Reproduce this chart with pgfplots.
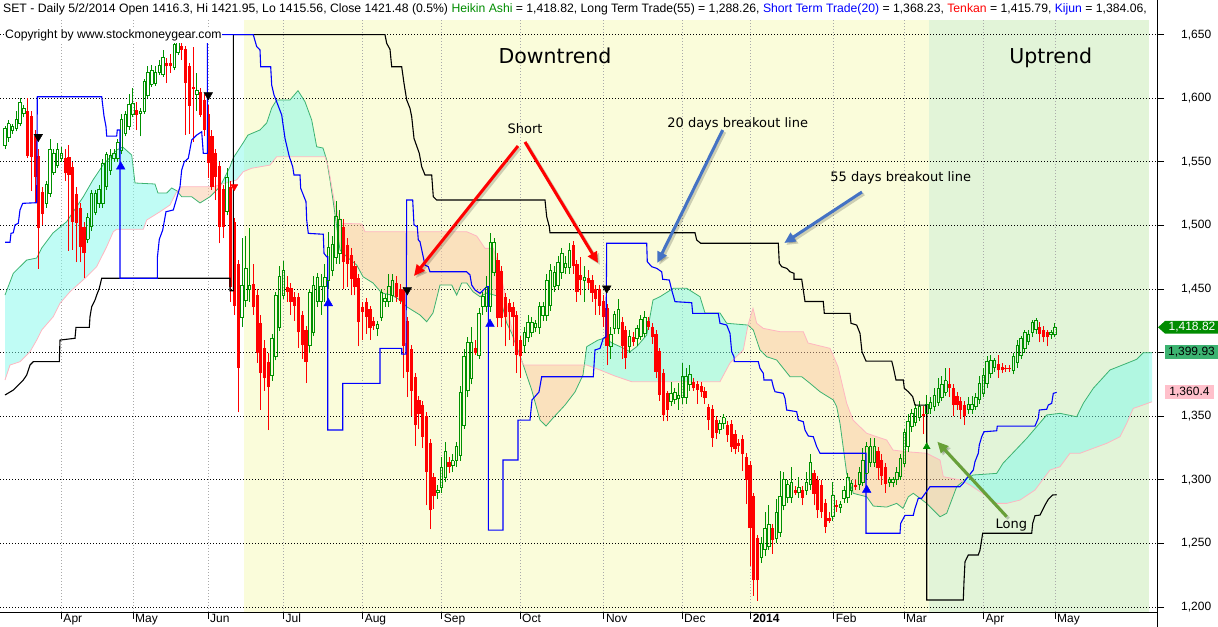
\documentclass[border=0pt]{standalone}
\usepackage{fontspec}
\setmainfont{Liberation Sans}
\newfontfamily\dejavu{DejaVu Sans}
\usepackage{pgfplots}
\pgfplotsset{compat=1.18}
\usepackage{pgfplotstable}
\usetikzlibrary{arrows.meta}

\definecolor{bgyellow}{RGB}{250,252,218}
\definecolor{bggreen}{RGB}{226,244,216}
\definecolor{candlered}{RGB}{255,0,0}
\definecolor{candlegreen}{RGB}{0,145,0}
\definecolor{spanA}{RGB}{60,179,113}
\definecolor{spanB}{RGB}{255,182,193}
\definecolor{cloudup}{RGB}{130,250,235}
\definecolor{clouddown}{RGB}{250,200,162}
\definecolor{arrowblue}{RGB}{68,114,196}
\definecolor{arrowgreen}{RGB}{104,160,56}
\definecolor{gridgray}{RGB}{170,170,170}
\definecolor{titlegreen}{RGB}{0,140,0}
\definecolor{lastgreen}{RGB}{0,140,0}
\definecolor{lastpink}{RGB}{255,192,203}

% d = trading day index (0 = first visible day); o h l c = candle values
% falling candles (open above close)
\pgfplotstableread{
d o h l c
6 1590 1600 1553 1555
7 1586 1590 1527 1554
8 1570 1575 1518 1538
9 1555 1560 1466 1498
10 1526 1530 1500 1509
16 1553 1560 1535 1541
17 1554 1563 1480 1540
18 1546 1550 1481 1503
19 1525 1530 1471 1502
20 1514 1518 1471 1483
21 1499 1503 1459 1478
35 1591 1597 1575 1587
43 1628 1632 1612 1625
44 1628 1635 1620 1625
47 1641 1646 1630 1638
48 1639 1641 1571 1612
49 1625 1628 1572 1594
50 1609 1640 1566 1607
52 1605 1608 1585 1587
53 1599 1603 1570 1575
54 1588 1595 1537 1549
55 1570 1575 1528 1530
56 1557 1560 1520 1538
57 1547 1550 1486 1499
58 1529 1532 1490 1499
60 1530 1535 1440 1452
61 1503 1506 1430 1437
62 1470 1473 1353 1388
66 1454 1470 1430 1436
67 1445 1450 1392 1400
68 1423 1430 1355 1384
69 1404 1410 1370 1380
70 1393 1400 1339 1373
75 1452 1460 1440 1448
76 1451 1455 1430 1440
77 1444 1448 1425 1437
78 1444 1447 1404 1416
79 1430 1433 1395 1406
80 1418 1421 1376 1393
90 1499 1505 1450 1471
91 1485 1490 1452 1470
92 1477 1482 1445 1458
93 1468 1472 1445 1452
94 1459 1462 1405 1424
95 1436 1440 1410 1432
96 1440 1443 1415 1428
97 1434 1437 1410 1419
98 1425 1428 1418 1421
104 1455 1460 1440 1444
105 1450 1454 1438 1441
106 1449 1452 1380 1405
107 1425 1428 1365 1385
108 1403 1406 1350 1370
109 1381 1384 1327 1343
110 1363 1366 1340 1352
111 1359 1362 1325 1334
112 1350 1353 1280 1306
113 1329 1332 1261 1276
114 1302 1305 1277 1287
118 1314 1318 1305 1310
125 1404 1410 1398 1400
131 1473 1478 1420 1427
132 1464 1468 1420 1427
133 1444 1447 1405 1428
134 1439 1442 1410 1432
135 1436 1440 1405 1428
136 1430 1433 1384 1398
137 1410 1413 1380 1397
151 1485 1488 1462 1468
152 1470 1473 1440 1448
153 1461 1475 1445 1457
155 1459 1465 1450 1455
156 1457 1461 1440 1447
157 1450 1453 1430 1442
158 1450 1453 1430 1437
159 1441 1445 1420 1428
160 1435 1438 1390 1405
164 1424 1428 1395 1405
165 1418 1421 1387 1396
167 1412 1416 1405 1408
171 1425 1428 1418 1420
172 1420 1423 1407 1412
173 1415 1418 1380 1385
174 1401 1404 1362 1367
175 1384 1387 1346 1351
176 1368 1370 1346 1355
183 1377 1380 1370 1372
184 1375 1378 1360 1371
185 1374 1377 1365 1369
186 1370 1373 1360 1364
187 1357 1360 1339 1347
188 1356 1359 1326 1333
189 1347 1350 1332 1337
192 1343 1346 1330 1335
193 1344 1347 1322 1326
194 1336 1339 1320 1324
195 1329 1332 1322 1327
196 1332 1335 1307 1320
197 1318 1321 1281 1300
198 1312 1315 1232 1262
199 1287 1290 1209 1221
200 1254 1257 1205 1221
204 1262 1265 1242 1253
210 1292 1295 1288 1290
212 1292 1295 1280 1286
215 1305 1308 1280 1289
216 1300 1303 1270 1276
217 1296 1300 1270 1275
218 1282 1285 1258 1263
219 1270 1275 1266 1268
221 1280 1284 1275 1279
226 1296 1300 1292 1294
232 1323 1326 1300 1309
233 1316 1320 1296 1303
234 1310 1313 1290 1297
244 1352 1358 1336 1350
251 1375 1388 1365 1372
252 1372 1375 1350 1359
253 1366 1369 1355 1359
254 1362 1365 1348 1355
255 1359 1362 1343 1350
264 1391 1398 1380 1386
265 1389 1392 1384 1386
266 1388 1390 1385 1387
267 1388 1390 1385 1387
275 1420 1424 1408 1415
276 1418 1421 1408 1412
277 1416 1418 1405 1412
}\redcandles
% rising candles (close at or above open)
\pgfplotstableread{
d o h l c
0 1563 1578 1560 1576
1 1569 1583 1566 1580
2 1575 1580 1572 1578
3 1576 1590 1574 1583
4 1580 1600 1578 1597
5 1588 1595 1585 1592
11 1517 1535 1514 1532
12 1525 1568 1522 1560
13 1542 1560 1540 1557
14 1547 1565 1545 1560
15 1553 1562 1550 1557
22 1489 1510 1486 1506
23 1499 1528 1496 1525
24 1510 1528 1508 1525
25 1517 1532 1514 1528
26 1517 1552 1514 1549
27 1531 1558 1528 1556
28 1543 1560 1540 1555
29 1553 1560 1550 1557
30 1553 1568 1550 1565
31 1559 1588 1556 1583
32 1572 1590 1570 1587
33 1578 1603 1575 1595
34 1587 1608 1585 1596
36 1588 1592 1570 1590
37 1590 1615 1588 1613
38 1602 1625 1600 1620
39 1611 1626 1609 1622
40 1612 1625 1610 1620
41 1620 1630 1618 1626
42 1619 1638 1617 1632
45 1624 1648 1622 1642
46 1636 1650 1634 1644
51 1603 1620 1590 1606
59 1511 1545 1508 1538
63 1428 1490 1420 1453
64 1441 1492 1436 1466
65 1450 1498 1440 1453
71 1382 1415 1378 1411
72 1397 1448 1394 1445
73 1420 1468 1417 1460
74 1445 1472 1442 1465
81 1406 1450 1400 1447
82 1416 1460 1413 1453
83 1440 1463 1436 1459
84 1440 1462 1430 1452
85 1452 1470 1440 1459
86 1457 1495 1450 1483
87 1465 1492 1460 1485
88 1475 1519 1470 1507
89 1478 1512 1470 1505
99 1419 1425 1413 1422
100 1428 1450 1425 1447
101 1440 1446 1436 1443
102 1440 1462 1436 1452
103 1445 1462 1440 1457
115 1290 1296 1285 1292
116 1294 1318 1290 1310
117 1302 1330 1298 1322
119 1311 1320 1306 1315
120 1315 1330 1310 1326
121 1319 1374 1315 1369
122 1343 1403 1340 1397
123 1370 1412 1365 1408
124 1380 1420 1375 1408
126 1398 1435 1395 1431
127 1436 1448 1430 1444
128 1436 1460 1432 1451
129 1436 1494 1432 1487
130 1463 1490 1460 1487
138 1406 1420 1400 1416
139 1412 1430 1408 1424
140 1416 1428 1412 1424
141 1420 1426 1416 1423
142 1420 1440 1415 1436
143 1429 1440 1425 1436
144 1429 1462 1425 1457
145 1437 1470 1433 1465
146 1452 1468 1448 1463
147 1453 1476 1450 1471
148 1463 1482 1458 1478
149 1467 1476 1462 1470
150 1467 1486 1462 1480
154 1457 1468 1440 1459
161 1405 1420 1395 1414
162 1419 1433 1415 1430
163 1419 1442 1415 1434
166 1405 1418 1400 1413
168 1411 1422 1405 1419
169 1413 1430 1410 1426
170 1415 1433 1412 1428
177 1362 1377 1358 1368
178 1363 1372 1360 1369
179 1364 1376 1355 1366
180 1365 1392 1360 1381
181 1365 1388 1360 1381
182 1375 1390 1370 1383
190 1340 1347 1336 1344
191 1344 1352 1340 1349
201 1239 1255 1235 1250
202 1245 1275 1240 1262
203 1248 1280 1245 1265
205 1254 1285 1250 1274
206 1259 1307 1255 1287
207 1280 1306 1276 1300
208 1286 1300 1282 1296
209 1286 1310 1282 1298
211 1290 1302 1286 1294
213 1292 1306 1288 1298
214 1296 1320 1292 1314
220 1271 1298 1268 1288
222 1278 1283 1274 1281
223 1285 1295 1282 1292
224 1286 1305 1282 1302
225 1292 1300 1288 1297
227 1296 1310 1292 1306
228 1298 1325 1295 1315
229 1305 1330 1300 1326
230 1314 1333 1310 1326
231 1314 1333 1310 1326
235 1298 1302 1294 1300
236 1298 1302 1294 1300
237 1300 1310 1296 1306
238 1303 1320 1300 1317
239 1313 1340 1310 1337
240 1326 1352 1322 1346
241 1342 1356 1338 1352
242 1345 1360 1342 1356
243 1349 1362 1346 1358
245 1352 1367 1348 1359
246 1356 1365 1352 1361
247 1358 1372 1354 1366
248 1361 1380 1358 1372
249 1365 1382 1362 1375
250 1369 1388 1366 1378
256 1355 1365 1352 1359
257 1355 1366 1352 1359
258 1358 1368 1355 1365
259 1363 1382 1360 1376
260 1368 1388 1365 1382
261 1376 1397 1372 1393
262 1384 1398 1380 1394
263 1388 1396 1385 1394
268 1386 1400 1383 1397
269 1392 1410 1388 1406
270 1398 1413 1395 1411
271 1403 1418 1400 1416
272 1409 1418 1406 1414
273 1416 1426 1412 1424
274 1418 1427 1415 1425
278 1414 1418 1411 1416
279 1414 1423 1412 1420
}\greencandles

\begin{document}
\begin{tikzpicture}
\useasboundingbox (0,0) rectangle (1218bp,627bp);
% background zones (behind the axis)
\fill[bgyellow] (244bp,15bp) rectangle (929bp,607bp);
\fill[bggreen] (929bp,15bp) rectangle (1149bp,607bp);
\begin{axis}[
  at={(0bp,15bp)}, anchor=south west,
  scale only axis, width=1157bp, height=592bp,
  xmin=0, xmax=1157, ymin=1196.1, ymax=1661.56,
  axis x line*=bottom, axis y line*=right,
  axis line style={black, line width=1bp},
  xtick align=outside, ytick align=outside,
  major tick length=7bp,
  tick style={black, line width=0.8bp},
  xtick={61.3,133,208,283.5,362.6,441.7,520,603.8,682,833.7,904,983.5,1055},
  xticklabels={Apr,May,Jun,Jul,Aug,Sep,Oct,Nov,Dec,Feb,Mar,Apr,May},
  extra x ticks={750.6},
  extra x tick labels={\textbf{2014}},
  extra x tick style={major grid style={solid, gray!45, line width=0.8bp}},
  xmajorgrids,
  x grid style={gridgray, dash pattern=on 1bp off 2bp, line width=0.8bp},
  ytick={1200,1250,1300,1350,1400,1450,1500,1550,1600,1650},
  yticklabels={{1,200},{1,250},{1,300},{1,350},{},{1,450},{1,500},{1,550},{1,600},{1,650}},
  ymajorgrids,
  y grid style={black, dash pattern=on 1bp off 2bp, line width=0.8bp},
  yticklabel pos=right,
  tick label style={font=\fontsize{12bp}{14bp}\selectfont},
  xticklabel style={anchor=north west, inner sep=0pt, xshift=2bp, yshift=5bp},
  yticklabel style={anchor=west, inner sep=0pt, xshift=17bp},
]
% cloud areas (span A above span B: cyan, span B above span A: peach)
\addplot[draw=none, fill=cloudup, fill opacity=0.5] coordinates {
(5,1445.3) (13.3,1462.4) (26.7,1472.8) (36.7,1474.4) (41.7,1482.3) (53,1494.1) (66.7,1503) (83.3,1522.6)
(93,1535.8) (103,1547.5) (116.7,1559.3) (122.7,1561.7) (131.7,1555.4) (135,1533.4) (155,1532.6) (158,1525.5)
(166.7,1525.5) (171.7,1529.5) (176.5,1527.3)
(176.5,1526.3) (170,1516.1) (160,1510.8) (146.7,1504.3) (143.3,1497) (116.7,1497) (113.3,1495.1) (106.7,1483.3)
(96.7,1467.6) (85,1458.5) (70,1447.9) (60,1438.8) (53.3,1428.3) (41.7,1417.8) (36.7,1409.9) (30,1400.7)
(20,1392.9) (10,1390.3) (5,1378.5)};
\addplot[draw=none, fill=clouddown, fill opacity=0.5] coordinates {
(176.5,1526.5) (181.7,1530.5) (213.3,1530.5) (221,1532.2)
(221,1532.1) (220,1530.5) (210,1522.6) (200,1517.7) (191.7,1522.6) (181.7,1522.6) (176.5,1527)};
\addplot[draw=none, fill=cloudup, fill opacity=0.5] coordinates {
(221,1532.1) (230,1546.2) (233.3,1553.1) (243,1564.8) (248,1571.1) (260,1575.1) (266.7,1580.6) (271.7,1592.4)
(276.7,1598.7) (290,1598.7) (298,1606) (305,1597.3) (311.7,1582.9) (316.7,1561.9) (323,1560.9) (326.7,1551.5)
(327.3,1549)
(325,1554.1) (276.7,1554.1) (270,1547.5) (251.7,1545) (243.3,1542.3) (236.7,1535.8) (221,1532.2)};
\addplot[draw=none, fill=clouddown, fill opacity=0.5] coordinates {
(327.3,1549) (328.3,1546.2) (331.7,1530.5) (335,1516.1) (341.7,1501.7) (361.7,1501.2) (365,1495.1)
(466.7,1495.1) (476.7,1491.7) (485,1482) (493.3,1482) (500,1465) (506,1441.4) (512,1417.8) (518,1400.5)
(523.3,1390.3) (584.5,1390.3)
(583,1382.4) (575,1369.1) (565,1358.8) (553,1348.6) (546,1342.3) (540,1347) (531.7,1370.6) (523.3,1390.3)
(511.7,1415.4) (506.7,1423.3) (500,1444) (486.7,1446.9) (480,1444) (473,1447.9) (466.7,1454.8) (461.7,1454.8)
(456.7,1445.3) (451.7,1453.2) (440,1453.2) (433,1431.2) (426.7,1424.3) (420,1429.6) (406.7,1436.1) (400,1441.4)
(391.7,1445.3) (381.7,1446.9) (373,1454.8) (363,1459.7) (356.7,1468.9) (346.7,1475.4) (340,1480.7) (336.7,1499)
(333,1520) (330,1535.8)};
\addplot[draw=none, fill=cloudup, fill opacity=0.5] coordinates {
(584.5,1390.3) (586.7,1404.7) (598,1409.9) (605,1411.5) (612,1407.6) (623,1403.7) (630,1400.7) (636.7,1404.7)
(646.7,1413.9) (653,1441.4) (660,1444) (673.3,1450.6) (686.7,1450.6) (700,1444) (705,1431.2) (720,1431.2)
(726.7,1423.1) (748,1421.7)
(743.3,1402.1) (730,1391.9) (720,1377.2) (631.7,1377.2) (615,1381.6) (600,1386.4) (586.7,1390.3)};
\addplot[draw=none, fill=clouddown, fill opacity=0.5] coordinates {
(748,1421.7) (753,1434.9) (756.7,1423.1) (763.3,1419.1) (780,1416.5) (803.3,1416.5) (808,1407.6) (830,1403.4)
(838,1389) (846.7,1360.2) (853,1347) (866.7,1336.6) (886.7,1331.3) (893,1323.4) (906.7,1322.1) (926.7,1320.9)
(940,1315.6) (943.3,1302.5) (960,1299.9) (963,1298.7)
(956.7,1294.6) (946.7,1273.7) (940,1271) (926.7,1281.5) (913.3,1289.4) (908.3,1286.7) (903,1277.6) (896.7,1281.5)
(886.7,1278.6) (873.3,1279.4) (866.7,1286.7) (853.3,1289.4) (846.7,1305.1) (840,1344.4) (836.7,1357.5)
(833.3,1362.8) (820,1369.3) (810,1375.9) (801.7,1381.1) (790,1381.1) (783.3,1387.7) (776.7,1394.2) (766.7,1396.8)
(760,1402.1) (753.3,1417.8)};
\addplot[draw=none, fill=cloudup, fill opacity=0.5] coordinates {
(963,1298.8) (966.7,1301.2) (973.3,1303.8) (996.7,1305.1) (1003,1313) (1026.7,1332.6) (1046.7,1351) (1060,1352.3)
(1076.7,1349.6) (1083.3,1360.2) (1093.3,1372) (1110,1386.4) (1126.7,1391.6) (1136.7,1394.8) (1143.3,1400)
(1152,1400)
(1152,1361.4) (1140,1358) (1133.3,1356.2) (1126.7,1344.4) (1120,1333.9) (1106.7,1328.7) (1080,1320.9)
(1070,1320.9) (1060,1310.3) (1050,1307.7) (1035,1292) (1020,1284.1) (1006.7,1281.5) (996.7,1281.5) (985,1288.1)
(970,1295.9)};

% cloud edges
\addplot[spanA, line width=0.8bp] coordinates {
(5,1445.3) (13.3,1462.4) (26.7,1472.8) (36.7,1474.4) (41.7,1482.3) (53,1494.1) (66.7,1503) (83.3,1522.6)
(93,1535.8) (103,1547.5) (116.7,1559.3) (122.7,1561.7) (131.7,1555.4) (135,1533.4) (155,1532.6) (158,1525.5)
(166.7,1525.5) (171.7,1529.5) (176.7,1527.3) (181.7,1522.6) (191.7,1522.6) (200,1517.7) (210,1522.6) (220,1530.5)
(230,1546.2) (233.3,1553.1) (243,1564.8) (248,1571.1) (260,1575.1) (266.7,1580.6) (271.7,1592.4) (276.7,1598.7)
(290,1598.7) (298,1606) (305,1597.3) (311.7,1582.9) (316.7,1561.9) (323,1560.9) (326.7,1551.5) (330,1535.8)
(333,1520) (336.7,1499) (340,1480.7) (346.7,1475.4) (356.7,1468.9) (363,1459.7) (373,1454.8) (381.7,1446.9)
(391.7,1445.3) (400,1441.4) (406.7,1436.1) (420,1429.6) (426.7,1424.3) (433,1431.2) (440,1453.2) (451.7,1453.2)
(456.7,1445.3) (461.7,1454.8) (466.7,1454.8) (473,1447.9) (480,1444) (486.7,1446.9) (500,1444) (506.7,1423.3)
(511.7,1415.4) (523.3,1390.3) (531.7,1370.6) (540,1347) (546,1342.3) (553,1348.6) (565,1358.8) (575,1369.1)
(583,1382.4) (586.7,1404.7) (598,1409.9) (605,1411.5) (612,1407.6) (623,1403.7) (630,1400.7) (636.7,1404.7)
(646.7,1413.9) (653,1441.4) (660,1444) (673.3,1450.6) (686.7,1450.6) (700,1444) (705,1431.2) (720,1431.2)
(726.7,1423.1) (748,1421.7) (753.3,1417.8) (760,1402.1) (766.7,1396.8) (776.7,1394.2) (783.3,1387.7) (790,1381.1)
(801.7,1381.1) (810,1375.9) (820,1369.3) (833.3,1362.8) (836.7,1357.5) (840,1344.4) (846.7,1305.1) (853.3,1289.4)
(866.7,1286.7) (873.3,1279.4) (886.7,1278.6) (896.7,1281.5) (903,1277.6) (908.3,1286.7) (913.3,1289.4) (926.7,1281.5)
(940,1271) (946.7,1273.7) (956.7,1294.6) (966.7,1301.2) (973.3,1303.8) (996.7,1305.1) (1003,1313) (1026.7,1332.6)
(1046.7,1351) (1060,1352.3) (1076.7,1349.6) (1083.3,1360.2) (1093.3,1372) (1110,1386.4) (1126.7,1391.6)
(1136.7,1394.8) (1143.3,1400) (1152,1400)};
\addplot[spanB, line width=0.8bp] coordinates {
(5,1378.5) (10,1390.3) (20,1392.9) (30,1400.7) (36.7,1409.9) (41.7,1417.8) (53.3,1428.3) (60,1438.8) (70,1447.9)
(85,1458.5) (96.7,1467.6) (106.7,1483.3) (113.3,1495.1) (116.7,1497) (143.3,1497) (146.7,1504.3) (160,1510.8)
(170,1516.1) (176.7,1526.6) (181.7,1530.5) (213.3,1530.5) (236.7,1535.8) (243.3,1542.3) (251.7,1545) (270,1547.5)
(276.7,1554.1) (325,1554.1) (328.3,1546.2) (331.7,1530.5) (335,1516.1) (341.7,1501.7) (361.7,1501.2) (365,1495.1)
(466.7,1495.1) (476.7,1491.7) (485,1482) (493.3,1482) (500,1465) (506,1441.4) (512,1417.8) (518,1400.5)
(523.3,1390.3) (586.7,1390.3) (600,1386.4) (615,1381.6) (631.7,1377.2) (720,1377.2) (730,1391.9) (743.3,1402.1)
(748,1421.7) (753,1434.9) (756.7,1423.1) (763.3,1419.1) (780,1416.5) (803.3,1416.5) (808,1407.6) (830,1403.4)
(838,1389) (846.7,1360.2) (853,1347) (866.7,1336.6) (886.7,1331.3) (893,1323.4) (906.7,1322.1) (926.7,1320.9)
(940,1315.6) (943.3,1302.5) (960,1299.9) (970,1295.9) (985,1288.1) (996.7,1281.5) (1006.7,1281.5) (1020,1284.1)
(1035,1292) (1050,1307.7) (1060,1310.3) (1070,1320.9) (1080,1320.9) (1106.7,1328.7) (1120,1333.9)
(1126.7,1344.4) (1133.3,1356.2) (1140,1358) (1152,1361.4)};

% falling candles: wick and filled body
\addplot[candlered, line width=1bp, mark=none, quiver={u=0, v=\thisrow{h}-\thisrow{l}}]
  table[x expr=5+3.763*\thisrow{d}, y=l] {\redcandles};
\addplot[candlered, line width=3.2bp, mark=none, quiver={u=0, v=\thisrow{o}-\thisrow{c}}]
  table[x expr=5+3.763*\thisrow{d}, y=c] {\redcandles};
% rising candles: wicks and hollow body
\addplot[candlegreen, line width=1bp, mark=none, quiver={u=0, v=\thisrow{h}-\thisrow{c}}]
  table[x expr=5+3.763*\thisrow{d}, y=c] {\greencandles};
\addplot[candlegreen, line width=1bp, mark=none, quiver={u=0, v=\thisrow{o}-\thisrow{l}}]
  table[x expr=5+3.763*\thisrow{d}, y=l] {\greencandles};
\addplot[candlegreen, line width=0.9bp, mark=none, quiver={u=0, v=\thisrow{c}-\thisrow{o}}]
  table[x expr=5+3.763*\thisrow{d}-1.25, y=o] {\greencandles};
\addplot[candlegreen, line width=0.9bp, mark=none, quiver={u=0, v=\thisrow{c}-\thisrow{o}}]
  table[x expr=5+3.763*\thisrow{d}+1.25, y=o] {\greencandles};
\addplot[candlegreen, only marks, mark=-, mark size=1.7bp, mark options={line width=0.9bp}]
  table[x expr=5+3.763*\thisrow{d}, y=c] {\greencandles};
\addplot[candlegreen, only marks, mark=-, mark size=1.7bp, mark options={line width=0.9bp}]
  table[x expr=5+3.763*\thisrow{d}, y=o] {\greencandles};

% 55 days breakout line
\addplot[black, line width=1.1bp] coordinates {
(5,1366.7) (13.3,1370.6) (16.7,1373.2) (20,1375.9) (23.3,1378.5) (26.7,1382.4) (30,1390.3) (33.3,1392.9)
(59.3,1392.9) (60,1409.9) (75,1411.3) (76,1419.9) (89.3,1419.9) (90,1428.3) (91.7,1436.1) (95,1441.4)
(96.7,1445.3) (99.3,1450.6) (101.7,1458.5) (230,1458.5) (230,1448.7) (233.3,1448.7) (233.3,1650) (385,1650)
(386.7,1643.2) (390,1638.5) (391.7,1624.8) (401.7,1624.8) (404,1611.8) (406.7,1598.7) (410,1592.1) (411.7,1585.5)
(414,1568.5) (419.3,1556.7) (421.7,1546.2) (425,1539.7) (431.7,1539.7) (433.3,1522.6) (436.7,1520) (545,1520)
(546.7,1506.9) (549.3,1499) (550,1494.3) (695,1494.3) (696.7,1488.6) (700.7,1486) (778.3,1486) (779.3,1470.3)
(781.7,1467.6) (786.7,1466.3) (790,1463.6) (794,1462.4) (794,1457.7) (801.7,1457.7) (803.3,1449.3) (805,1440.2)
(823.3,1440.2) (824.3,1430.9) (850,1430.9) (851,1423.1) (856.7,1421.7) (860,1415.2) (862,1400.7) (866,1393.4)
(891.7,1393.4) (893.3,1388.5) (896,1378.5) (903.3,1378.5) (904.3,1372) (908.3,1369.3) (912.7,1365.4) (915,1358.8)
(926.7,1358.8) (926.7,1205.5) (963.3,1205.5) (964,1219.9) (965,1235.6) (968.3,1240.9) (978.3,1240.9) (980,1244.8)
(982.7,1258) (1031.7,1258) (1032.7,1265.8) (1035,1271.8) (1040,1272.3) (1045,1280.2) (1048.3,1284.7)
(1052.7,1288.1) (1056.7,1288.3)};
% 20 days breakout line
\addplot[blue, line width=1.1bp] coordinates {
(5,1486.8) (10,1486.8) (11,1493.8) (13.3,1494.3) (15,1500.4) (18.3,1501.7) (20,1512.2) (22.7,1517.4) (36.7,1517.9)
(37.3,1601.2) (101.7,1601.2) (104,1586.1) (106,1577.7) (106.7,1570.3) (116.7,1570.3) (117.3,1575.1) (120,1575.1)
(120,1458.5) (157.3,1458.5) (157.3,1474.2) (159.3,1489.1) (162.7,1496.4) (166,1510.8) (173.3,1512.2) (176.7,1521.4)
(180,1530.5) (181.7,1543.6) (184.3,1550.1) (188.3,1552.8) (191.7,1567.2) (196.7,1571.1) (201.7,1573.7)
(203.3,1556.7) (207.3,1556.7) (207.3,1650) (253.3,1650) (256.7,1640.6) (260,1638) (260.7,1624.8) (270.7,1624.8)
(271.7,1610.4) (274,1602.6) (276,1598.7) (281.7,1586.9) (285,1568.5) (289.3,1554.1) (292.7,1546.2) (294,1539.7)
(300,1539.7) (300.7,1529.2) (306,1518.7) (306.7,1504.3) (308.3,1493.8) (323.3,1493.1) (324,1478.1) (326.7,1475.4)
(327.7,1475.4) (327.7,1339.2) (342.7,1339.2) (342.7,1375.9) (380,1375.9) (380,1403.4) (401.7,1403.4)
(401.7,1398.9) (406,1398.9) (406.7,1520) (412.7,1520) (414,1500.4) (417.3,1499) (418.3,1488.6) (420,1487.2)
(425,1468.9) (428.3,1467.6) (430,1463.6) (466.7,1463.6) (470,1461.1) (471.7,1453.2) (475,1449.3) (480,1446.7)
(486.7,1451.9) (488.3,1451.9) (488.3,1260.5) (503,1260.5) (503,1315.6) (518,1315.6) (518,1347) (530,1347)
(532,1362.8) (539,1369.1) (541.7,1381.1) (593.3,1381.1) (595,1402.1) (600,1403.4) (603.3,1411.3) (606,1412.5)
(606.7,1486) (646.7,1486) (647.3,1471.5) (651.7,1467.6) (656.7,1466.3) (661.7,1463.6) (662.7,1457.7)
(669.3,1457.1) (671.7,1449.3) (675,1440.1) (691.7,1439.3) (692.7,1430.9) (718.3,1430.9) (720,1423.1)
(726.7,1421.7) (730,1415.2) (731.7,1400.7) (734,1396.8) (734.3,1392.9) (758.3,1392.9) (760,1387.7) (763.3,1383.8)
(764,1378.5) (771.7,1378.5) (773.3,1373.2) (775,1369.3) (783.3,1368) (785,1364.1) (786.7,1354.9) (796.7,1353.6)
(798.3,1347) (803.3,1345.7) (805,1339.2) (808.3,1334.5) (813.3,1333.9) (816.7,1326.1) (820,1320.9) (866,1320.9)
(866,1258) (900,1258) (900.7,1265.8) (905,1272.1) (913.3,1272.1) (915,1277.6) (918.3,1285.5) (921.7,1285.5)
(930,1294.6) (960,1294.6) (963.3,1297.3) (966.7,1301.2) (973.3,1307.7) (975,1314.3) (978.3,1320.9)
(979.3,1327.4) (981.7,1333.9) (984,1337.8) (996.7,1338.6) (997.3,1342.3) (1035,1342.3) (1038.3,1348.4)
(1039.3,1354.9) (1046.7,1355.5) (1048.3,1358.8) (1051.7,1360.2) (1053.3,1368) (1056.7,1368.8)};

% signals
\addplot[only marks, mark=triangle*, mark size=5bp, mark options={rotate=180, fill=black, draw=black}]
  coordinates {(38.3,1569.8) (208.3,1602.6) (407.3,1449.3) (606.7,1450.6)};
\addplot[only marks, mark=triangle*, mark size=5bp, mark options={fill=blue, draw=blue}]
  coordinates {(120.7,1546.2) (328.3,1438.8) (490,1422.5) (866.7,1292)};
\addplot[only marks, mark=triangle*, mark size=4bp, mark options={rotate=180, fill=red, draw=red}]
  coordinates {(234.3,1530.5)};
\addplot[only marks, mark=triangle*, mark size=4bp, mark options={fill=candlegreen, draw=candlegreen}]
  coordinates {(926.7,1326)};
\end{axis}

\begin{scope}[shift={(0bp,627bp)}, x=1bp, y=-1bp]
\draw[black, line width=1bp] (1157,0) -- (1157,627);
\node[anchor=base west, inner sep=0pt, font=\fontsize{12.2bp}{14bp}\selectfont] at (3,13)
  {SET - Daily 5/2/2014 Open 1416.3, Hi 1421.95, Lo 1415.56, Close 1421.48 (0.5\%) \textcolor{titlegreen}{Heikin Ashi} = 1,418.82, Long Term Trade(55) = 1,288.26, \textcolor{blue}{Short Term Trade(20)} = 1,368.23, \textcolor{red}{Tenkan} = 1,415.79, \textcolor{blue}{Kijun} = 1,384.06,};
\node[anchor=base west, inner sep=1pt, fill=white, font=\fontsize{12.2bp}{14bp}\selectfont] at (4,39)
  {Copyright by www.stockmoneygear.com};
\node[anchor=base, inner sep=0pt, font=\dejavu\fontsize{20.5bp}{24bp}\selectfont] at (555,63.3) {Downtrend};
\node[anchor=base, inner sep=0pt, font=\dejavu\fontsize{20.5bp}{24bp}\selectfont] at (1050.7,63.3) {Uptrend};
\node[anchor=base, inner sep=0pt, font=\dejavu\fontsize{13bp}{15bp}\selectfont] at (525,133.3) {Short};
\node[anchor=base, inner sep=0pt, font=\dejavu\fontsize{13bp}{15bp}\selectfont] at (737.7,127.3) {20 days breakout line};
\node[anchor=base, inner sep=0pt, font=\dejavu\fontsize{13bp}{15bp}\selectfont] at (900.7,181.7) {55 days breakout line};
\node[anchor=base, inner sep=0pt, font=\dejavu\fontsize{13bp}{15bp}\selectfont] at (1011.3,528.3) {Long};
% annotation arrows
\begin{scope}[line width=3bp, -{Triangle[length=11bp,width=10bp]}]
\draw[black, opacity=0.18, shift={(2,2)}] (518,146) -- (414,276);
\draw[black, opacity=0.18, shift={(2,2)}] (525,142) -- (598,263);
\draw[black, opacity=0.18, shift={(2,2)}] (722.7,130) -- (657.3,263);
\draw[black, opacity=0.18, shift={(2,2)}] (862,192) -- (784.3,243);
\draw[black, opacity=0.18, shift={(2,2)}] (1006.7,516.7) -- (937.3,441.7);
\draw[candlered] (518,146) -- (414,276);
\draw[candlered] (525,142) -- (598,263);
\draw[arrowblue] (722.7,130) -- (657.3,263);
\draw[arrowblue] (862,192) -- (784.3,243);
\draw[arrowgreen] (1006.7,516.7) -- (937.3,441.7);
\end{scope}
% last value tags
\fill[lastgreen] (1158,327.3) -- (1165,321) -- (1218,321) -- (1218,333.6) -- (1165,333.6) -- cycle;
\node[white, inner sep=0pt, font=\fontsize{12bp}{14bp}\selectfont] at (1192,327.5) {1,418.82};
\fill[spanA] (1165,345.5) rectangle (1218,359);
\node[black, inner sep=0pt, font=\fontsize{12bp}{14bp}\selectfont] at (1191.5,352.5) {1,399.93};
\fill[lastpink] (1165,385.5) rectangle (1214,399);
\node[black, inner sep=0pt, font=\fontsize{12bp}{14bp}\selectfont] at (1189.5,392.5) {1,360.4};
\end{scope}
\end{tikzpicture}
\end{document}
